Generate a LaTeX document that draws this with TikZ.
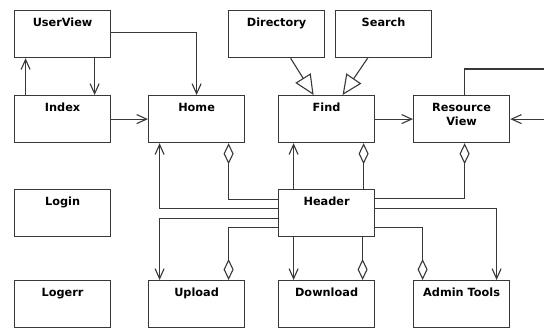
\documentclass[tikz,border=0pt]{standalone}
\usepackage{fontspec}
\setmainfont{DejaVu Sans}
\usetikzlibrary{arrows.meta}
\definecolor{gris}{RGB}{56,56,56}

\begin{document}
\begin{tikzpicture}[x=1pt,y=-1pt,
  classe/.style={draw=gris,line width=1.2pt,minimum width=96pt,minimum height=47pt,anchor=north west,inner sep=0pt},
  titre/.style={anchor=north,inner sep=0pt,yshift=-8pt,text=black,font=\bfseries\fontsize{11.3}{14}\selectfont,align=center},
  lien/.style={draw=gris,line width=1.1pt},
  fl/.style={lien,-{Straight Barb[length=10pt,width=9pt]}},
  agr/.style={lien,{Diamond[open,length=21pt,width=10pt]}-},
  her/.style={lien,-{Triangle[open,length=20pt,width=18pt]}}]
\useasboundingbox (0,0) rectangle (544,329);
\clip (0,0) rectangle (544,329);
\node[classe,label={[titre]north:UserView}] (uv) at (14,10) {};
\node[classe,label={[titre]north:Directory}] (dir) at (228,10) {};
\node[classe,label={[titre]north:Search}] (search) at (335,10) {};
\node[classe,label={[titre]north:Index}] (index) at (14,95) {};
\node[classe,label={[titre]north:Home}] (home) at (148,95) {};
\node[classe,label={[titre]north:Find}] (find) at (278,95) {};
\node[classe,label={[titre]north:Resource\\View}] (rv) at (413,95) {};
\node[classe,label={[titre]north:Login}] (login) at (14,189) {};
\node[classe,label={[titre]north:Header}] (header) at (278,189) {};
\node[classe,label={[titre]north:Logerr}] (logerr) at (14,280) {};
\node[classe,label={[titre]north:Upload}] (upload) at (148,280) {};
\node[classe,label={[titre]north:Download}] (download) at (278,280) {};
\node[classe,label={[titre]north:Admin Tools}] (admin) at (413,280) {};
\coordinate (boucle) at (560,69);
\draw[fl] ([xshift=32]uv.south) -- ([xshift=32]index.north);
\draw[fl] ([xshift=-37]index.north) -- ([xshift=-37]uv.south);
\draw[fl] ([yshift=1.5]uv.east) -| (home.north);
\draw[fl] (index) -- (home);
\draw[her] ([xshift=14]dir.south) -- ([xshift=-13]find.north);
\draw[her] ([xshift=-16]search.south) -- ([xshift=16]find.north);
\draw[fl] (find) -- (rv);
\draw[fl] ([xshift=3]rv.north) |- (boucle) |- (rv.east);
\draw[fl] ([yshift=4.5]header.west) -| ([xshift=-37]home.south);
\draw[agr] ([xshift=32]home.south) |- ([yshift=13.5]header.west);
\draw[fl] ([yshift=-5.5]header.west) -| ([xshift=-37]upload.north);
\draw[agr] ([xshift=32]upload.north) |- ([yshift=-14.5]header.west);
\draw[fl] ([xshift=-33]header.north) -- ([xshift=-33]find.south);
\draw[agr] ([xshift=37]find.south) -- ([xshift=37]header.north);
\draw[fl] ([xshift=-33]header.south) -- ([xshift=-33]download.north);
\draw[agr] ([xshift=36]download.north) -- ([xshift=36]header.south);
\draw[agr] ([xshift=3]rv.south) |- ([yshift=14.5]header.east);
\draw[fl] ([yshift=4.5]header.east) -| ([xshift=35]admin.north);
\draw[agr] ([xshift=-39]admin.north) |- ([yshift=-14.5]header.east);
\end{tikzpicture}
\end{document}
